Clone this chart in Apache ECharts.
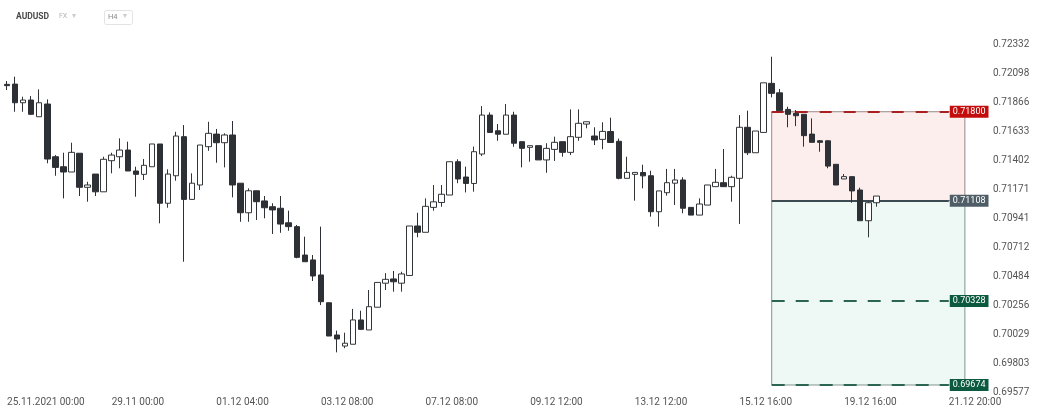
<!DOCTYPE html>
<html><head><meta charset="utf-8">
<script src="https://cdn.jsdelivr.net/npm/echarts@6/dist/echarts.min.js"></script>
<style>html,body{margin:0;padding:0;background:#fff}#c{width:1042px;height:417px}</style>
</head><body><div id="c"></div>
<script>
// ---- data ----
const xTickLabels = ['25.11.2021 00:00','29.11 00:00','01.12 04:00','03.12 08:00','07.12 08:00','09.12 12:00','13.12 12:00','15.12 16:00','19.12 16:00','21.12 20:00'];
const yTickLabels = ['0.69577','0.69803','0.70029','0.70256','0.70484','0.70712','0.70941','0.71171','0.71402','0.71633','0.71866','0.72098','0.72332'];
const open = [0.72013,0.72015,0.71870,0.71891,0.71761,0.71860,0.71450,0.71372,0.71331,0.71477,
0.71212,0.71315,0.71177,0.71419,0.71450,0.71502,0.71339,0.71313,0.71372,0.71549,
0.71088,0.71302,0.71606,0.71118,0.71230,0.71528,0.71626,0.71559,0.71619,0.71244,
0.71014,0.71185,0.71106,0.71061,0.71049,0.70936,0.70906,0.70685,0.70647,0.70530,
0.70314,0.70063,0.69977,0.69991,0.70180,0.70102,0.70279,0.70466,0.70499,0.70466,
0.70526,0.70911,0.70862,0.71056,0.71094,0.71152,0.71411,0.71292,0.71242,0.71471,
0.71774,0.71652,0.71625,0.71774,0.71567,0.71523,0.71536,0.71425,0.71507,0.71567,
0.71484,0.71601,0.71704,0.71611,0.71585,0.71646,0.71570,0.71282,0.71313,0.71327,
0.71302,0.71022,0.71170,0.71244,0.71269,0.71056,0.70996,0.71074,0.71217,0.71248,
0.71217,0.71282,0.71679,0.71481,0.71639,0.72021,0.71947,0.71818,0.71788,0.71780,
0.71626,0.71574,0.71574,0.71391,0.71277,0.71295,0.71191,0.70952,0.71092];
const close = [0.72003,0.71870,0.71891,0.71780,0.71870,0.71432,0.71367,0.71331,0.71484,0.71212,
0.71230,0.71177,0.71430,0.71463,0.71502,0.71339,0.71313,0.71383,0.71549,0.71088,
0.71315,0.71611,0.71118,0.71244,0.71541,0.71632,0.71559,0.71619,0.71230,0.71014,
0.71185,0.71100,0.71053,0.71036,0.70926,0.70906,0.70667,0.70633,0.70522,0.70322,
0.70055,0.70032,0.69999,0.70180,0.70107,0.70283,0.70472,0.70496,0.70477,0.70538,
0.70911,0.70862,0.71064,0.71099,0.71158,0.71411,0.71277,0.71242,0.71489,0.71774,
0.71639,0.71625,0.71774,0.71555,0.71515,0.71536,0.71425,0.71515,0.71562,0.71484,
0.71606,0.71710,0.71722,0.71580,0.71647,0.71561,0.71282,0.71328,0.71328,0.71301,
0.71022,0.71184,0.71248,0.71269,0.71049,0.70996,0.71082,0.71230,0.71251,0.71217,
0.71290,0.71679,0.71481,0.71650,0.72025,0.71943,0.71808,0.71780,0.71769,0.71614,
0.71562,0.71562,0.71377,0.71230,0.71295,0.71184,0.70952,0.71092,0.71144];
const low = [0.71969,0.71800,0.71800,0.71774,0.71761,0.71399,0.71302,0.71126,0.71331,0.71144,
0.71100,0.71144,0.71177,0.71321,0.71360,0.71339,0.71139,0.71269,0.71372,0.70932,
0.71053,0.71263,0.70633,0.71118,0.71191,0.71496,0.71403,0.71367,0.71134,0.70944,
0.70944,0.70958,0.70971,0.70849,0.70858,0.70874,0.70660,0.70633,0.70483,0.70296,
0.70055,0.69928,0.69960,0.69991,0.70102,0.70102,0.70279,0.70413,0.70400,0.70400,
0.70526,0.70823,0.70862,0.71030,0.71061,0.71152,0.71244,0.71172,0.71178,0.71455,
0.71639,0.71574,0.71625,0.71528,0.71367,0.71411,0.71425,0.71325,0.71417,0.71450,
0.71463,0.71574,0.71671,0.71541,0.71508,0.71561,0.71274,0.71282,0.71108,0.71204,
0.70984,0.70906,0.71147,0.71074,0.71010,0.70996,0.70996,0.71074,0.71217,0.71217,
0.71100,0.70927,0.71463,0.71481,0.71639,0.71912,0.71808,0.71679,0.71688,0.71528,
0.71562,0.71489,0.71360,0.71230,0.71277,0.71092,0.70952,0.70823,0.71061];
const high = [0.72039,0.72073,0.71917,0.71922,0.71974,0.71896,0.71463,0.71481,0.71559,0.71477,
0.71255,0.71315,0.71450,0.71481,0.71593,0.71567,0.71372,0.71432,0.71549,0.71549,
0.71352,0.71644,0.71696,0.71321,0.71541,0.71722,0.71666,0.71632,0.71728,0.71244,
0.71204,0.71185,0.71144,0.71088,0.71144,0.71030,0.70919,0.70828,0.70685,0.70906,
0.70314,0.70097,0.70081,0.70266,0.70252,0.70413,0.70472,0.70544,0.70561,0.70555,
0.70911,0.71014,0.71126,0.71230,0.71230,0.71411,0.71430,0.71373,0.71529,0.71844,
0.71795,0.71704,0.71860,0.71800,0.71567,0.71536,0.71536,0.71555,0.71606,0.71567,
0.71818,0.71818,0.71722,0.71679,0.71718,0.71754,0.71591,0.71450,0.71328,0.71388,
0.71341,0.71184,0.71355,0.71355,0.71290,0.71056,0.71126,0.71230,0.71355,0.71510,
0.71302,0.71774,0.71808,0.71650,0.72025,0.72228,0.71977,0.71839,0.71813,0.71780,
0.71748,0.71580,0.71580,0.71391,0.71315,0.71295,0.71209,0.71100,0.71144];
// trade levels: take profit / entry / targets
const levelValues = [0.71800, 0.71108, 0.70328, 0.69674];
const levelLabels = ['0.71800', '0.71108', '0.70328', '0.69674'];
const zoneStart = 95, zoneEnd = 119, lineEnd = 117, categoryCount = 122;

// ---- chart ----
const chart = echarts.init(document.getElementById('c'), null, {renderer: 'canvas'});
const cats = Array.from({length: categoryCount}, (_, i) => String(i));
const candles = open.map((o, i) => [o, close[i], low[i], high[i]]);
const FONT = 'Roboto, "Noto Sans", sans-serif';

const lineStyles = [
  {color: '#a82020', width: 2, type: [12, 12]},
  {color: '#3d4a52', width: 2, type: 'solid'},
  {color: '#2c6652', width: 2, type: [13, 11]},
  {color: '#2c6652', width: 2, type: [13, 11]}
];
const tagColors = ['#c30d0d', '#4e5d66', '#0b5a3f', '#0b5a3f'];

const markLineData = levelValues.map((v, k) => {
  const lbl = {show: true, position: 'end', formatter: levelLabels[k], color: '#fff',
    backgroundColor: tagColors[k], padding: [1, 3, 0, 3], fontSize: 9, lineHeight: 11,
    distance: 1, fontFamily: FONT};
  return [
    {coord: [zoneStart, v], lineStyle: lineStyles[k], label: lbl},
    {coord: [lineEnd, v], lineStyle: lineStyles[k], label: lbl}
  ];
});

const option = {
  animation: false,
  backgroundColor: '#ffffff',
  grid: {left: 3, right: 57, top: 44, bottom: 24.3},
  xAxis: {
    type: 'category', data: cats, boundaryGap: true,
    axisLine: {show: false}, axisTick: {show: false}, splitLine: {show: false},
    axisLabel: {
      interval: 12, align: 'left', margin: 5, color: '#555', fontSize: 10, fontFamily: FONT,
      formatter: (v, i) => (i % 13 === 0 && xTickLabels[i / 13]) ? xTickLabels[i / 13] : ''
    }
  },
  yAxis: [
    {type: 'value', min: 0.69614, max: 0.72327, show: false},
    {type: 'category', data: yTickLabels, boundaryGap: false, position: 'right',
      axisLine: {show: false}, axisTick: {show: false}, splitLine: {show: false},
      axisLabel: {interval: 0, margin: 8, color: '#555', fontSize: 10, fontFamily: FONT}}
  ],
  graphic: [
    {type: 'text', left: 16, top: 12, style: {text: 'AUDUSD', font: 'bold 8.5px ' + FONT, fill: '#4a4a4a'}},
    {type: 'text', left: 59, top: 13, style: {text: 'FX', font: '7px ' + FONT, fill: '#b3b3b3'}},
    {type: 'text', left: 72, top: 12, style: {text: '▾', font: '8px "DejaVu Sans"', fill: '#cccccc'}},
    {type: 'rect', left: 104, top: 10, shape: {width: 28, height: 14, r: 2}, style: {fill: '#fff', stroke: '#e3e3e3', lineWidth: 1}},
    {type: 'text', left: 108, top: 13, style: {text: 'H4', font: '7.5px ' + FONT, fill: '#8a8a8a'}},
    {type: 'text', left: 123, top: 12, style: {text: '▾', font: '8px "DejaVu Sans"', fill: '#cccccc'}}
  ],
  series: [{
    type: 'candlestick',
    data: candles,
    xAxisIndex: 0, yAxisIndex: 0,
    barWidth: 6,
    z: 3,
    silent: true,
    itemStyle: {color: '#ffffff', color0: '#2d3035', borderColor: '#333638', borderColor0: '#2d3035', borderWidth: 1},
    markArea: {
      silent: true, z: 1,
      data: [
        [{xAxis: zoneStart, yAxis: levelValues[0], itemStyle: {color: '#fdeeee', borderColor: '#9c8787', borderWidth: 1}},
         {xAxis: zoneEnd, yAxis: levelValues[1]}],
        [{xAxis: zoneStart, yAxis: levelValues[1], itemStyle: {color: '#eef8f5', borderColor: '#7f958d', borderWidth: 1}},
         {xAxis: zoneEnd, yAxis: levelValues[3]}]
      ]
    },
    markLine: {
      silent: true, z: 2, symbol: ['none', 'none'], animation: false,
      data: markLineData
    }
  }]
};
chart.setOption(option);
</script>
</body></html>
